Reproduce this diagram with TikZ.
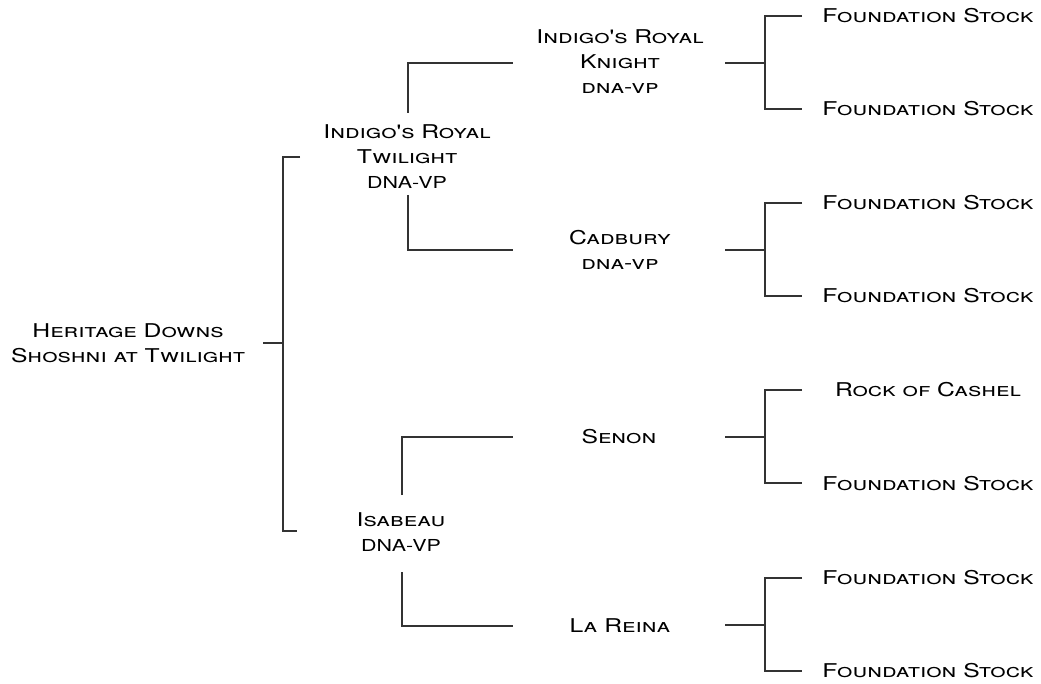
\documentclass[tikz,border=0pt]{standalone}
\usepackage{fontspec}
\newfontfamily\pedfont[FakeStretch=1.3]{TeX Gyre Heros}
\usetikzlibrary{positioning}
\newcommand{\regmark}{{\fontsize{16.5}{25}\selectfont DNA-VP}}
\tikzset{
        treenode/.style={align=center,inner sep=0pt,text=black},
        % Named horses
        node_horse/.style={treenode, font=\pedfont\scshape\fontsize{19}{25}\selectfont},
        % Foundation horses on the right
        node_leaf/.style={treenode, font=\pedfont\scshape\fontsize{19}{25}\selectfont},
        % Bracket lines
        bracket/.style={draw=black!80, line width=1.3pt}
}
\begin{document}
\begin{tikzpicture}[x=1pt,y=-1pt]
    \useasboundingbox (0,0) rectangle (1041,684);
    % horses
    \node[node_horse] (root) at (128,343) {Heritage Downs\\Shoshni at Twilight};
    \node[node_horse] (sire) at (407,157) {Indigo's Royal\\Twilight\\\regmark};
    \node[node_horse] (dam) at (401,532) {Isabeau\\\regmark};
    \node[node_horse] (sire_s) at (620,62) {Indigo's Royal\\Knight\\dna-vp};
    \node[node_horse] (sire_d) at (620,250) {Cadbury\\dna-vp};
    \node[node_horse] (dam_s) at (619,437) {Senon};
    \node[node_horse] (dam_d) at (620,626) {La Reina};
    \foreach \name/\y/\txt in {sss/16/Foundation Stock, ssd/109/Foundation Stock,
            sds/203/Foundation Stock, sdd/296/Foundation Stock,
            dss/390/Rock of Cashel, dsd/484/Foundation Stock,
            dds/578/Foundation Stock, ddd/671/Foundation Stock}
        \node[node_leaf] (\name) at (928,\y) {\txt};
    % root bracket
    \coordinate (r_in) at (263,343);
    \coordinate (r_j) at (283,343);
    \coordinate (r_t) at (283,157);
    \coordinate (r_b) at (283,531);
    \coordinate (r_to) at (300,157);
    \coordinate (r_bo) at (297,531);
    \draw[bracket] (r_in) -- (r_j);
    \draw[bracket] (r_to) -- (r_t) -- (r_b) -- (r_bo);
    % sire and dam brackets
    \coordinate (s_up) at (408,113);
    \coordinate (s_dn) at (408,195);
    \coordinate (s_t) at (513,63);
    \coordinate (s_b) at (513,250);
    \draw[bracket] (s_up) |- (s_t);
    \draw[bracket] (s_dn) |- (s_b);
    \coordinate (d_up) at (402,495);
    \coordinate (d_dn) at (402,572);
    \coordinate (d_t) at (513,437);
    \coordinate (d_b) at (513,626);
    \draw[bracket] (d_up) |- (d_t);
    \draw[bracket] (d_dn) |- (d_b);
    % right brackets
    \foreach \n/\y in {sire_s/63, sire_d/250, dam_s/437, dam_d/625} {
        \coordinate (\n_in) at (725,\y);
        \coordinate (\n_j) at (765,\y);
        \coordinate (\n_t) at (765,\y-47);
        \coordinate (\n_b) at (765,\y+46);
        \coordinate (\n_to) at (802,\y-47);
        \coordinate (\n_bo) at (802,\y+46);
        \draw[bracket] (\n_in) -- (\n_j);
        \draw[bracket] (\n_to) -- (\n_t) -- (\n_b) -- (\n_bo);
    }
\end{tikzpicture}
\end{document}
